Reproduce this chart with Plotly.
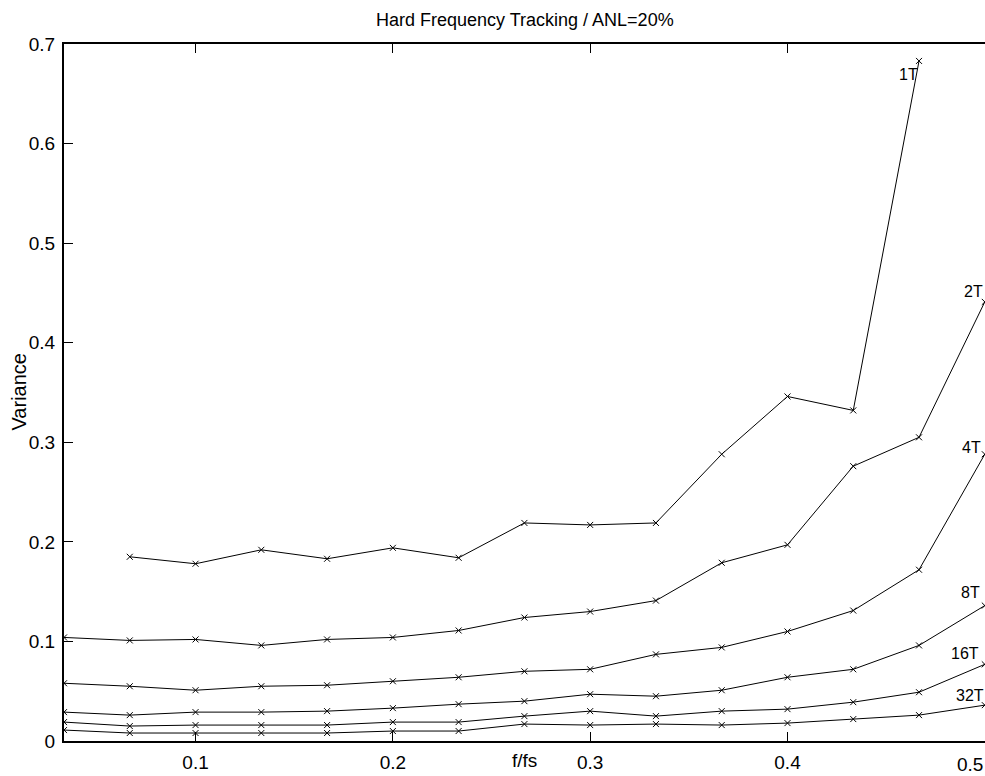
import plotly.graph_objects as go

# Normalised frequency grid f/fs = k/30, k = 1..15
freq = [k / 30 for k in range(1, 16)]

# Variance of the hard frequency tracker for 1, 2, 4, 8, 16 and 32 taps
var_1T = [None, 0.185, 0.178, 0.192, 0.183, 0.194, 0.184, 0.219, 0.217, 0.219,
          0.288, 0.346, 0.332, 0.683, None]
var_2T = [0.104, 0.101, 0.102, 0.096, 0.102, 0.104, 0.111, 0.124, 0.130, 0.141,
          0.179, 0.197, 0.276, 0.305, 0.441]
var_4T = [0.058, 0.055, 0.051, 0.055, 0.056, 0.060, 0.064, 0.070, 0.072, 0.087,
          0.094, 0.110, 0.131, 0.172, 0.288]
var_8T = [0.029, 0.026, 0.029, 0.029, 0.030, 0.033, 0.037, 0.040, 0.047, 0.045,
          0.051, 0.064, 0.072, 0.096, 0.136]
var_16T = [0.019, 0.015, 0.016, 0.016, 0.016, 0.019, 0.019, 0.025, 0.030, 0.025,
           0.030, 0.032, 0.039, 0.049, 0.077]
var_32T = [0.011, 0.008, 0.008, 0.008, 0.008, 0.010, 0.010, 0.017, 0.016, 0.017,
           0.016, 0.018, 0.022, 0.026, 0.036]

series = [("1T", var_1T), ("2T", var_2T), ("4T", var_4T),
          ("8T", var_8T), ("16T", var_16T), ("32T", var_32T)]

# Curve labels (text, x, y) in data coordinates
curve_labels = [("1T", 0.4613, 0.669), ("2T", 0.4942, 0.451), ("4T", 0.4932, 0.295),
                ("8T", 0.4927, 0.149), ("16T", 0.4902, 0.088), ("32T", 0.4927, 0.046)]

x_ticks = [0.1, 0.2, 0.3, 0.4, 0.5]
y_ticks = [0, 0.1, 0.2, 0.3, 0.4, 0.5, 0.6, 0.7]
X_MAX = 0.5

FONT = "Liberation Sans, Arial, sans-serif"

fig = go.Figure()
for name, vals in series:
    fig.add_trace(go.Scatter(
        x=freq, y=vals, name=name, mode="lines+markers",
        line=dict(color="black", width=1),
        marker=dict(symbol="x-thin", size=6, line=dict(color="black", width=1)),
        connectgaps=False, showlegend=False,
    ))

for txt, x, y in curve_labels:
    fig.add_annotation(x=x, y=y, xref="x", yref="y", text=txt, showarrow=False,
                       xanchor="center", yanchor="middle",
                       font=dict(family=FONT, size=16, color="black"))

# The last x tick label sits against the right edge of the figure
fig.add_annotation(x=X_MAX, y=0, xref="x", yref="paper", yshift=-23,
                   text=f"{x_ticks[-1]:g}", showarrow=False,
                   xanchor="right", yanchor="middle",
                   font=dict(family=FONT, size=19, color="black"))

# Title and axis labels
fig.add_annotation(x=0.5, y=1 + (44 - 20) / 697, xref="x domain", yref="paper",
                   text="Hard Frequency Tracking / ANL=20%", showarrow=False,
                   font=dict(family=FONT, size=18, color="black"),
                   xanchor="center", yanchor="middle")
fig.add_annotation(x=0.5, y=0, xref="x domain", yref="paper", yshift=-19,
                   text="f/fs", showarrow=False,
                   font=dict(family=FONT, size=19, color="black"),
                   xanchor="center", yanchor="middle")
fig.add_annotation(x=0, y=0.5, xref="paper", yref="y domain", xshift=-46,
                   text="Variance", showarrow=False, textangle=-90,
                   font=dict(family=FONT, size=20, color="black"),
                   xanchor="center", yanchor="middle")

fig.update_layout(
    width=985, height=776,
    margin=dict(l=64, r=0, t=44, b=35, pad=0),
    paper_bgcolor="white", plot_bgcolor="white",
    font=dict(family=FONT, size=19, color="black"),
    xaxis=dict(range=[1 / 30, X_MAX + 1e-4], tickvals=x_ticks,
               ticktext=[f"{v:g}" for v in x_ticks[:-1]] + [""],
               showgrid=False, zeroline=False, showline=True, linecolor="black",
               linewidth=2, mirror="ticks", ticks="inside", ticklen=9, tickwidth=1,
               tickcolor="black", ticklabelstandoff=3),
    yaxis=dict(range=[0, 0.7], tickvals=y_ticks, ticktext=[f"{v:g}" for v in y_ticks],
               showgrid=False, zeroline=False, showline=True, linecolor="black",
               linewidth=2, ticks="inside", ticklen=9, tickwidth=1, tickcolor="black",
               ticklabelstandoff=3),
    yaxis2=dict(range=[0, 0.7], overlaying="y", side="right", tickvals=y_ticks,
                showticklabels=False, showgrid=False, zeroline=False, showline=False,
                ticks="inside", ticklen=9, tickwidth=1, tickcolor="black"),
)

fig.write_html("out.html")
